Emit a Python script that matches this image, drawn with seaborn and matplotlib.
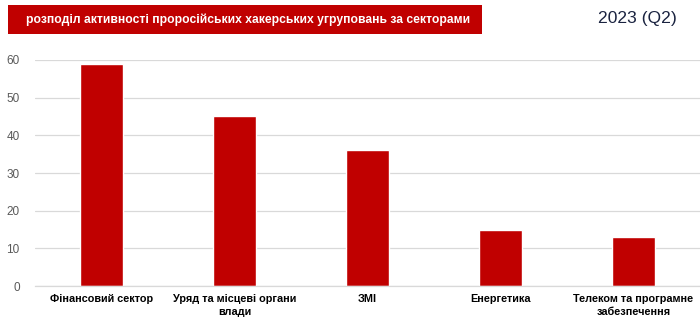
import matplotlib
matplotlib.use("Agg")
import matplotlib.pyplot as plt
import seaborn as sns
import pandas as pd
from matplotlib.patches import Rectangle

categories = ["Фінансовий сектор", "Уряд та місцеві органи\nвлади", "ЗМІ", "Енергетика", "Телеком та програмне\nзабезпечення"]
values = [59, 45, 36, 15, 13]
yticks = [0, 10, 20, 30, 40, 50, 60]
title = "розподіл активності проросійських хакерських угруповань за секторами"
period = "2023 (Q2)"

sns.set_theme(style="white")
plt.rcParams['font.family'] = ['Liberation Sans', 'DejaVu Sans']

df = pd.DataFrame({"sector": categories, "value": values})

fig = plt.figure(figsize=(7.0, 3.24), dpi=100)
ax = fig.add_axes([0.05, 0.117, 0.95, 0.698])
sns.barplot(data=df, x="sector", y="value", color="#C00000", width=0.32, ax=ax, saturation=1)

ax.set_ylim(0, 60)
ax.set_yticks(yticks)
ax.yaxis.grid(True, color="#D9D9D9", linewidth=0.9)
ax.set_axisbelow(True)
for s in ["top", "right", "left"]:
    ax.spines[s].set_visible(False)
ax.spines["bottom"].set_color("#D9D9D9")
ax.spines["bottom"].set_linewidth(0.9)
ax.set_xlabel("")
ax.set_ylabel("")
ax.tick_params(axis="y", length=0, labelsize=8.5, labelcolor="#595959", pad=11)
ax.tick_params(axis="x", length=0, labelsize=7.8, labelcolor="#000000", pad=6)
for lbl in ax.get_xticklabels():
    lbl.set_fontweight("bold")
    lbl.set_linespacing(1.3)

fig.patches.append(Rectangle((8/700, 1-34/324), 474/700, 29/324, transform=fig.transFigure,
                             facecolor="#C00000", edgecolor="none"))
fig.text(248/700, 1-19.5/324, title, color="white", fontsize=8.7, fontweight="bold",
         ha="center", va="center")
fig.text(637/700, 1-19/324, period, color="#1A2340", fontsize=12.6, ha="center", va="center")

fig.savefig("out.png", dpi=100)
